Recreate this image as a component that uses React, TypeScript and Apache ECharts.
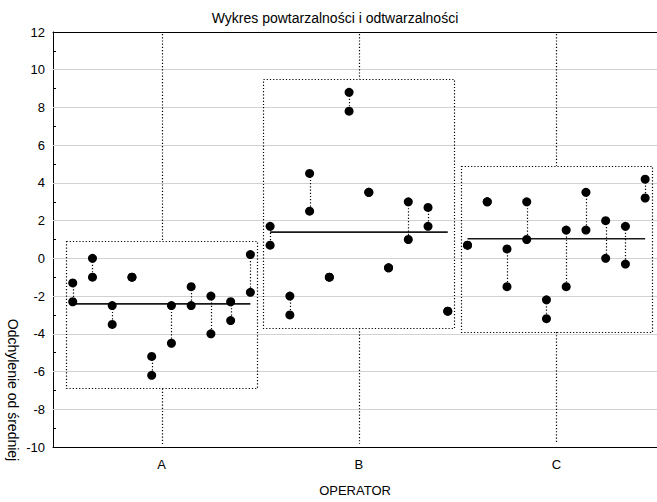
import React, { useEffect, useRef } from "react";
import * as echarts from "echarts";

const operators = ["A", "B", "C"];
const trial1A = [-1.3, 0, -2.5, -1, -5.2, -2.5, -1.5, -2, -2.3, 0.2];
const trial2A = [-2.3, -1, -3.5, -1, -6.2, -4.5, -2.5, -4, -3.3, -1.8];
const trial1B = [1.7, -2, 4.5, -1, 8.8, 3.5, -0.5, 3.0, 2.7, -2.8];
const trial2B = [0.7, -3, 2.5, -1, 7.8, 3.5, -0.5, 1.0, 1.7, -2.8];
const trial1C = [0.7, 3, 0.5, 3, -2.2, 1.5, 3.5, 2, 1.7, 4.2];
const trial2C = [0.7, 3, -1.5, 1, -3.2, -1.5, 1.5, 0, -0.3, 3.2];
const boxTop = [0.9, 9.5, 4.9];
const boxBottom = [-6.9, -3.7, -3.9];
const yTicks = [-10, -8, -6, -4, -2, 0, 2, 4, 6, 8, 10, 12];
const gridValues = [-8, -6, -4, -2, 0, 2, 4, 6, 8, 10];

const trials1 = [trial1A, trial1B, trial1C];
const trials2 = [trial2A, trial2B, trial2C];

const FONT = "'Liberation Sans', Arial, sans-serif";
const PART_STEP = 0.1;
const PART_START = -0.45;
const BOX_HALF = 0.485;

function partX(op: number, i: number) {
  return op + 1 + PART_START + PART_STEP * i;
}

const snap = (v: number) => Math.round(v) + 0.5;

export default function App() {
  const ref = useRef<HTMLDivElement>(null);
  useEffect(() => {
    if (!ref.current) return;
    const chart = echarts.init(ref.current, null, { renderer: "svg" });

    const points: number[][] = [];
    const pairs: number[][] = [];
    const means: number[][] = [];
    const boxes: number[][] = [];
    operators.forEach((_, op) => {
      const a = trials1[op];
      const b = trials2[op];
      let sum = 0;
      a.forEach((v, i) => {
        const x = partX(op, i);
        points.push([x, v]);
        points.push([x, b[i]]);
        pairs.push([x, v, b[i]]);
        sum += v + b[i];
      });
      means.push([op + 1, sum / (a.length * 2)]);
      boxes.push([op + 1, boxTop[op], boxBottom[op]]);
    });

    const dotted = { stroke: "#000", lineWidth: 1.2, lineDash: [1.2, 2], lineCap: "butt" };

    const option: any = {
      animation: false,
      backgroundColor: "#fff",
      textStyle: { fontFamily: FONT },
      title: {
        text: "Wykres powtarzalności i odtwarzalności",
        left: 330,
        textAlign: "center",
        top: 6,
        textStyle: { fontFamily: FONT, fontSize: 14, fontWeight: "normal", color: "#000" },
      },
      grid: {
        left: 53,
        right: 0,
        top: 32,
        bottom: 46,
      },
      xAxis: [
        {
          type: "value",
          min: 0.45,
          max: 3.51,
          name: "OPERATOR",
          nameLocation: "middle",
          nameGap: 37,
          nameTextStyle: { fontFamily: FONT, fontSize: 13, color: "#000" },
          axisLine: { show: true, onZero: false, lineStyle: { color: "#000" } },
          axisTick: { show: false, customValues: [1, 2, 3] },
          axisLabel: {
            customValues: [1, 2, 3],
            formatter: (v: number) => operators[Math.round(v) - 1] ?? "",
            fontFamily: FONT,
            fontSize: 13,
            color: "#000",
            margin: 11,
          },
          splitLine: { show: false },
        },
        {
          type: "value",
          position: "top",
          min: 0.45,
          max: 3.51,
          axisLine: { show: true, onZero: false, lineStyle: { color: "#000" } },
          axisTick: { show: false },
          axisLabel: { show: false },
          splitLine: { show: false },
        },
      ],
      yAxis: {
        type: "value",
        min: -10,
        max: 12,
        interval: 2,
        axisLine: { show: true, lineStyle: { color: "#000" } },
        axisTick: { show: true, inside: true, length: 4, lineStyle: { color: "#000" } },
        minorTick: { show: true, splitNumber: 2, length: 3, lineStyle: { color: "#000" } },
        axisLabel: {
          fontFamily: FONT,
          fontSize: 13,
          color: "#000",
          margin: 8,
          formatter: (v: number) => (yTicks.includes(v) ? String(v) : ""),
        },
        splitLine: { show: false },
      },
      graphic: [
        {
          type: "text",
          x: 13,
          y: 390,
          rotation: -Math.PI / 2,
          style: {
            text: "Odchylenie od średniej",
            font: `14px ${FONT}`,
            fill: "#000",
            textAlign: "center",
            textVerticalAlign: "middle",
          },
        },
      ],
      series: [
        {
          type: "custom",
          name: "boxes",
          data: boxes,
          z: 3,
          renderItem: (params: any, api: any) => {
            const x = api.value(0);
            const top = api.value(1);
            const bot = api.value(2);
            const p1 = api.coord([x - BOX_HALF, top]);
            const p2 = api.coord([x + BOX_HALF, bot]);
            const c = api.coord([x, top]);
            const cs = params.coordSys;
            const cx = snap(c[0]);
            return {
              type: "group",
              children: [
                {
                  type: "rect",
                  shape: {
                    x: snap(p1[0]),
                    y: snap(p1[1]),
                    width: Math.round(p2[0] - p1[0]),
                    height: Math.round(p2[1] - p1[1]),
                  },
                  style: { fill: "none", ...dotted },
                },
                {
                  type: "line",
                  shape: { x1: cx, y1: cs.y + 2, x2: cx, y2: p1[1] },
                  style: { ...dotted },
                },
                {
                  type: "line",
                  shape: { x1: cx, y1: p2[1], x2: cx, y2: cs.y + cs.height - 3 },
                  style: { ...dotted },
                },
              ],
            };
          },
        },
        {
          type: "custom",
          name: "means",
          data: means,
          z: 4,
          renderItem: (params: any, api: any) => {
            const x = api.value(0);
            const m = api.value(1);
            const p1 = api.coord([x + PART_START, m]);
            const p2 = api.coord([x + PART_START + PART_STEP * 9, m]);
            return {
              type: "line",
              shape: { x1: p1[0], y1: p1[1], x2: p2[0], y2: p2[1] },
              style: { stroke: "#1a1a1a", lineWidth: 1.6 },
            };
          },
        },
        {
          type: "custom",
          name: "pairs",
          data: pairs,
          z: 5,
          renderItem: (params: any, api: any) => {
            const x = api.value(0);
            const p1 = api.coord([x, api.value(1)]);
            const p2 = api.coord([x, api.value(2)]);
            const cx = snap(p1[0]);
            return {
              type: "line",
              shape: { x1: cx, y1: p1[1], x2: cx, y2: p2[1] },
              style: { ...dotted },
            };
          },
        },
        {
          type: "scatter",
          name: "points",
          data: points,
          symbol: "circle",
          symbolSize: 9,
          itemStyle: { color: "#000", opacity: 1 },
          z: 6,
          markLine: {
            silent: true,
            symbol: "none",
            label: { show: false },
            z: 1,
            lineStyle: { color: "#d2d2d2", width: 1, type: "solid", opacity: 1 },
            emphasis: { disabled: true },
            data: gridValues.map((v) => ({ yAxis: v })),
          },
        },
      ],
    };
    chart.setOption(option);
    return () => chart.dispose();
  }, []);
  return (
    <div
      ref={ref}
      style={{ position: "absolute", left: 0, top: 0, width: 657, height: 502 }}
    />
  );
}
